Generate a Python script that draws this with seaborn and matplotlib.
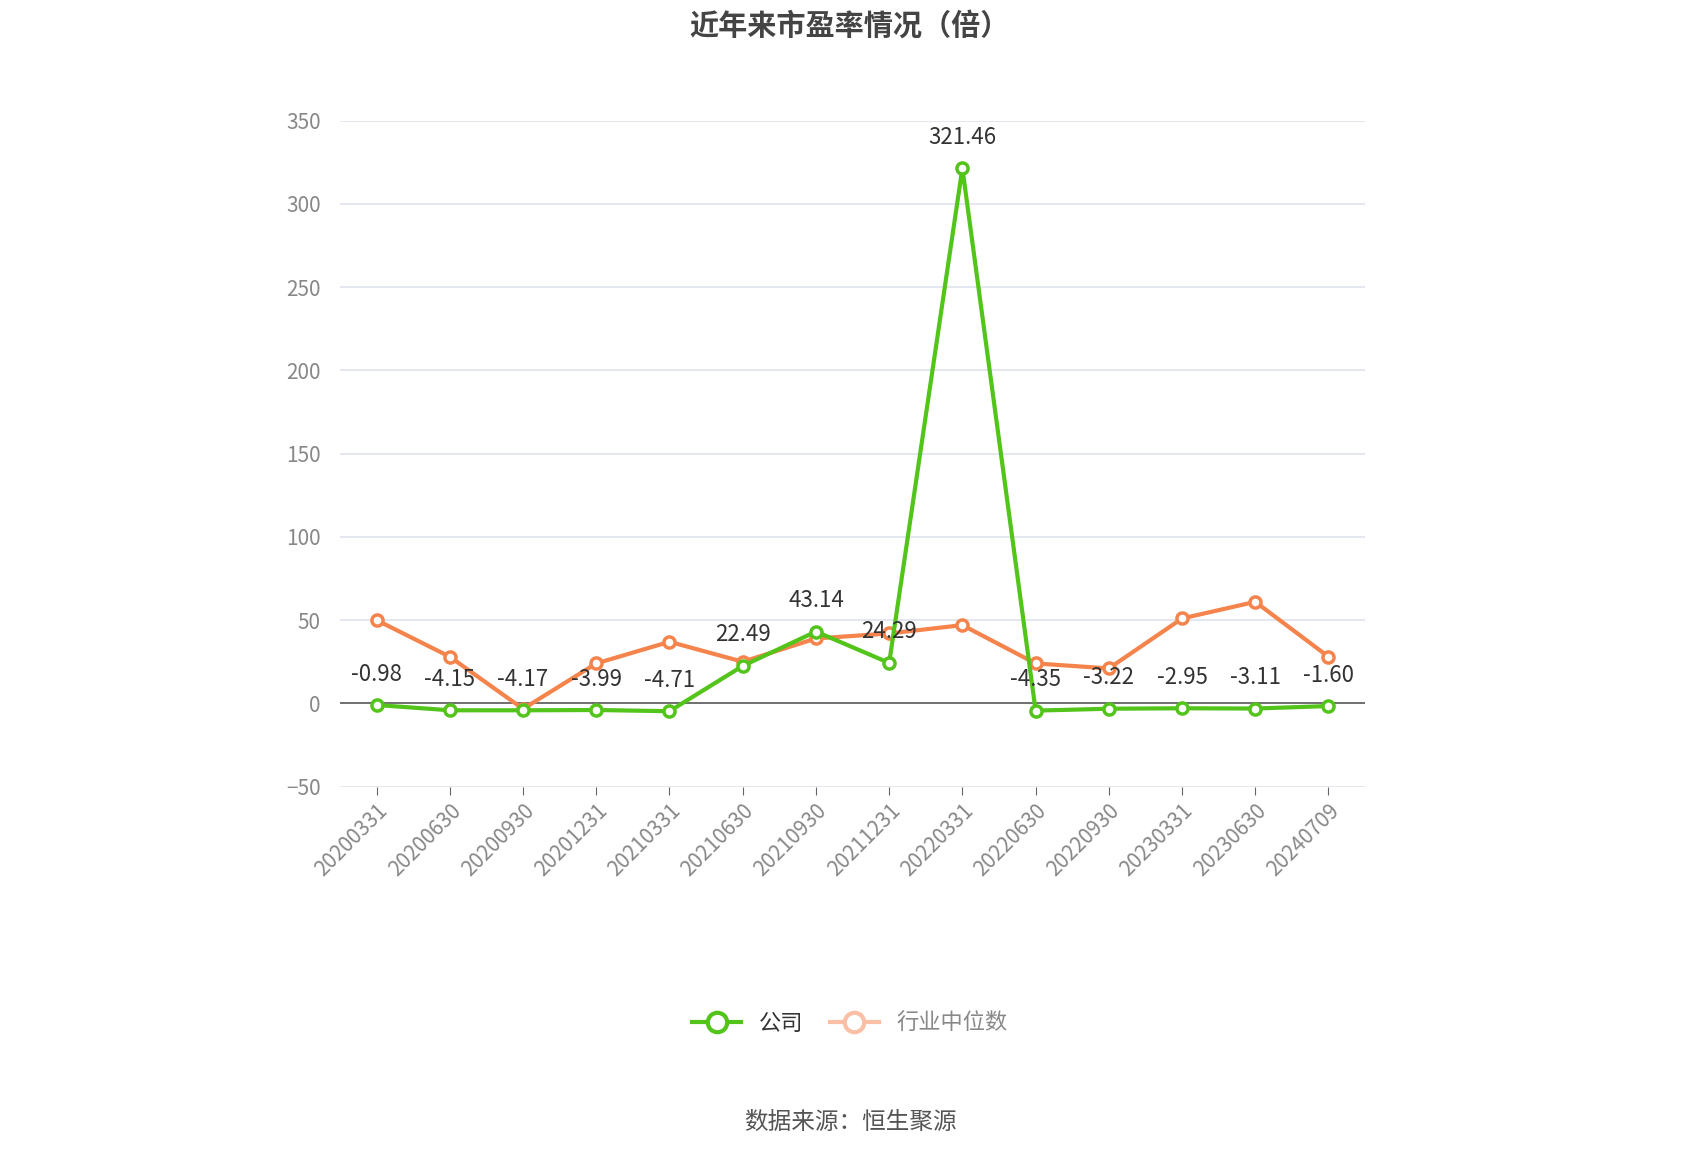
import matplotlib
matplotlib.use("Agg")
import matplotlib.pyplot as plt
import seaborn as sns
import pandas as pd
from matplotlib.lines import Line2D

plt.rcParams["font.family"] = ["Noto Sans CJK SC", "DejaVu Sans"]

dates = ["20200331","20200630","20200930","20201231","20210331","20210630","20210930",
         "20211231","20220331","20220630","20220930","20230331","20230630","20240709"]
company = [-0.98,-4.15,-4.17,-3.99,-4.71,22.49,43.14,24.29,321.46,-4.35,-3.22,-2.95,-3.11,-1.60]
industry = [50,28,-3.3,24,37,25,39,42,47,24,21,51,61,28]
yticks = [-50,0,50,100,150,200,250,300,350]

df = pd.DataFrame({"x": range(len(dates)), "company": company, "industry": industry})

fig = plt.figure(figsize=(17, 11.5), dpi=100)
ax = fig.add_axes([0.2, 0.316, 0.603, 0.579])
green = "#52c41a"
orange = "#f5844c"
sns.lineplot(data=df, x="x", y="industry", ax=ax, color=orange, lw=3, marker="o",
             markersize=8, markerfacecolor="white", markeredgecolor=orange, markeredgewidth=2.5, zorder=3)
sns.lineplot(data=df, x="x", y="company", ax=ax, color=green, lw=3, marker="o",
             markersize=8, markerfacecolor="white", markeredgecolor=green, markeredgewidth=2.5, zorder=4)
for i, v in enumerate(company):
    ax.annotate(f"{v:.2f}", (i, v), xytext=(0, 14), textcoords="offset points",
                ha="center", va="bottom", fontsize=16, color="#333333", zorder=5)

ax.set_xlim(-0.5, len(dates) - 0.5)
ax.set_ylim(-50, 350)
ax.set_yticks(yticks)
ax.set_xticks(range(len(dates)))
ax.set_xticklabels(dates, rotation=45, ha="right", rotation_mode="anchor")
ax.tick_params(axis="x", labelsize=15, colors="#888888", length=6, color="#666666")
ax.tick_params(axis="y", labelsize=15, colors="#888888", length=0, pad=14)
ax.grid(axis="y", color="#dfe3ee", lw=1.2)
ax.set_axisbelow(True)
for s in ax.spines.values():
    s.set_visible(False)
ax.axhline(0, color="#666666", lw=1.3, zorder=2)
ax.set_xlabel(""); ax.set_ylabel("")

fig.text(0.5, 0.978, "近年来市盈率情况（倍）", ha="center", va="center", fontsize=21,
         fontweight="bold", color="#444444")
handles = [Line2D([], [], color=green, lw=3, marker="o", markersize=14, markerfacecolor="white",
                  markeredgewidth=3),
           Line2D([], [], color="#fbbfa5", lw=3, marker="o", markersize=14, markerfacecolor="white",
                  markeredgewidth=3)]
leg = fig.legend(handles, ["公司", "行业中位数"], loc="center", bbox_to_anchor=(0.5, 0.11),
                 ncol=2, frameon=False, fontsize=16, handlelength=2.2, columnspacing=1.2)
leg.get_texts()[1].set_color("#888888")
leg.get_texts()[0].set_color("#333333")
fig.text(0.5, 0.024, "数据来源：恒生聚源", ha="center", va="center", fontsize=17, color="#555555")
fig.savefig("out.png", dpi=100)
